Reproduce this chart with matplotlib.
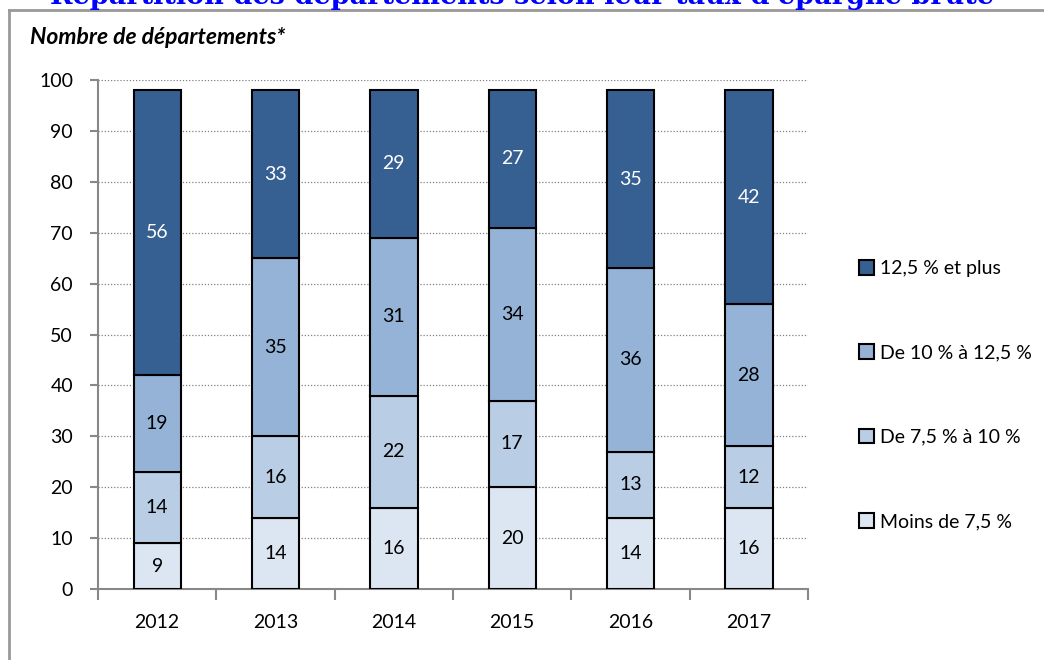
import numpy as np
import matplotlib.pyplot as plt
from matplotlib.patches import Patch

# Données
annees = ["2012", "2013", "2014", "2015", "2016", "2017"]
moins_7_5 = [9, 14, 16, 20, 14, 16]
de_7_5_a_10 = [14, 16, 22, 17, 13, 12]
de_10_a_12_5 = [19, 35, 31, 34, 36, 28]
plus_12_5 = [56, 33, 29, 27, 35, 42]

series = [moins_7_5, de_7_5_a_10, de_10_a_12_5, plus_12_5]
noms = ["Moins de 7,5 %", "De 7,5 % à 10 %", "De 10 % à 12,5 %", "12,5 % et plus"]
couleurs = ["#DCE6F2", "#B9CDE5", "#95B3D7", "#376092"]
couleurs_texte = ["black", "black", "black", "white"]

plt.rcParams['font.family'] = ['Lato', 'DejaVu Sans']

fig = plt.figure(figsize=(10.44, 6.6), dpi=100)
ax = fig.add_axes([98 / 1044, 1 - 589 / 660, 710 / 1044, (589 - 80) / 660])

x = np.arange(len(annees))
bas = np.zeros(len(annees))
for vals, nom, c, ct in zip(series, noms, couleurs, couleurs_texte):
    vals = np.array(vals)
    ax.bar(x, vals, 0.4, bottom=bas, color=c, edgecolor="black", linewidth=1.5,
           label=nom, zorder=3)
    for xi, b, v in zip(x, bas, vals):
        ax.text(xi, b + v / 2, str(v), ha="center", va="center", fontsize=14,
                color=ct, zorder=4)
    bas += vals

ax.set_xlim(-0.5, len(annees) - 0.5)
ax.set_ylim(0, 100)
ax.set_yticks(np.arange(0, 101, 10))
ax.yaxis.grid(True, linestyle=(0, (1, 1.5)), color="#808080", linewidth=0.9, zorder=0)
ax.tick_params(axis="y", direction="out", length=6, color="#888888", width=1.5,
               labelsize=14, pad=12)

ax.set_xticks(np.arange(-0.5, len(annees)), labels=[""] * (len(annees) + 1))
ax.tick_params(axis="x", which="major", direction="out", length=8, color="#888888", width=1.5)
ax.set_xticks(x, labels=annees, minor=True)
ax.tick_params(axis="x", which="minor", length=0, labelsize=14, pad=18)

for s in ["top", "right"]:
    ax.spines[s].set_visible(False)
for s in ["left", "bottom"]:
    ax.spines[s].set_color("#888888")
    ax.spines[s].set_linewidth(1.5)

# Légende (ordre inversé)
handles = [Patch(facecolor=c, edgecolor="black", linewidth=1.5) for c in couleurs][::-1]
fig.legend(handles, noms[::-1], loc="center left", bbox_to_anchor=(849 / 1044, 1 - 395 / 660),
           frameon=False, fontsize=14, handlelength=0.8, handleheight=0.8,
           handletextpad=0.3, labelspacing=3.45, borderpad=0)

# Cadre et titres
fig.add_artist(plt.Line2D([9 / 1044, 9 / 1044], [0, 1 - 10 / 660], color="#999999",
                          linewidth=2, transform=fig.transFigure))
fig.add_artist(plt.Line2D([9 / 1044, 1], [1 - 10 / 660, 1 - 10 / 660], color="#999999",
                          linewidth=2, transform=fig.transFigure))
fig.text(30 / 1044, 1 - 37 / 660, "Nombre de départements*", fontsize=16.5,
         fontweight="bold", fontstyle="italic", va="center", ha="left")
fig.text(0.5, 1 - 4 / 660, "Répartition des départements selon leur taux d'épargne brute",
         fontsize=19.5, fontweight="bold", color="#0000FF", family="DejaVu Serif",
         ha="center", va="baseline")

fig.savefig("out.png", dpi=100)
